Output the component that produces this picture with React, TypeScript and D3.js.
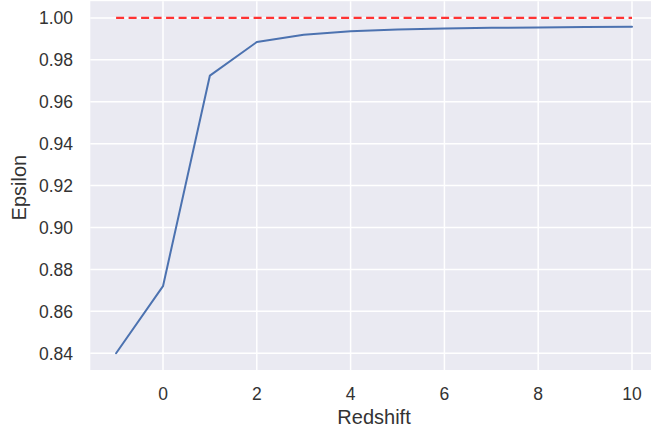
import React from "react";
import * as d3 from "d3";

const redshift = [-1, 0, 1, 2, 3, 4, 5, 6, 7, 8, 9, 10];
const epsilon = [0.84, 0.872, 0.9725, 0.9885, 0.992, 0.9937, 0.9945, 0.995, 0.9953, 0.9955, 0.9957, 0.9958];
const refValue = 1.0;
const xTicks = [0, 2, 4, 6, 8, 10];
const yTicks = [0.84, 0.86, 0.88, 0.9, 0.92, 0.94, 0.96, 0.98, 1.0];

const W = 651;
const H = 429;
const left = 90.3;
const right = 657.8;
const top = 1.2;
const bottom = 370;

export default function App() {
  const xMin = -1, xMax = 10;
  const xPad = (xMax - xMin) * 0.05;
  const yMin = 0.84, yMax = 1.0;
  const yPad = (yMax - yMin) * 0.05;
  const x = d3.scaleLinear().domain([xMin - xPad, xMax + xPad]).range([left, right]);
  const y = d3.scaleLinear().domain([yMin - yPad, yMax + yPad]).range([bottom, top]);
  const line = d3
    .line<number>()
    .x((_, i) => x(redshift[i]))
    .y((d) => y(d));
  const font = "'Liberation Sans', Arial, sans-serif";
  return (
    <svg
      width={W}
      height={H}
      style={{ position: "absolute", left: 0, top: 0, display: "block" }}
    >
      <rect x={0} y={0} width={W} height={H} fill="#fff" />
      <rect x={left} y={top} width={right - left} height={bottom - top} fill="#EAEAF2" />
      {xTicks.map((t) => (
        <line key={"gx" + t} x1={x(t)} x2={x(t)} y1={top} y2={bottom} stroke="#fff" strokeWidth={1.5} />
      ))}
      {yTicks.map((t) => (
        <line key={"gy" + t} x1={left} x2={right} y1={y(t)} y2={y(t)} stroke="#fff" strokeWidth={1.5} />
      ))}
      <path d={line(epsilon) || ""} fill="none" stroke="#4C72B0" strokeWidth={2} strokeLinejoin="round" strokeLinecap="round" />
      <line
        x1={x(redshift[0])}
        x2={x(redshift[redshift.length - 1])}
        y1={y(refValue)}
        y2={y(refValue)}
        stroke="#FF3333"
        strokeWidth={2.2}
        strokeDasharray="8,4.5"
      />
      {xTicks.map((t) => (
        <text key={"xt" + t} x={x(t)} y={400} textAnchor="middle" fontFamily={font} fontSize={17.5} fill="#333">
          {t}
        </text>
      ))}
      {yTicks.map((t) => (
        <text key={"yt" + t} x={73} y={y(t)} dy="0.36em" textAnchor="end" fontFamily={font} fontSize={17.5} fill="#333">
          {t.toFixed(2)}
        </text>
      ))}
      <text x={(left + right) / 2} y={423.5} textAnchor="middle" fontFamily={font} fontSize={20} fill="#333">
        Redshift
      </text>
      <text
        transform={`translate(26,${(top + bottom) / 2 + 2}) rotate(-90)`}
        textAnchor="middle"
        fontFamily={font}
        fontSize={20}
        fill="#333"
      >
        Epsilon
      </text>
    </svg>
  );
}
